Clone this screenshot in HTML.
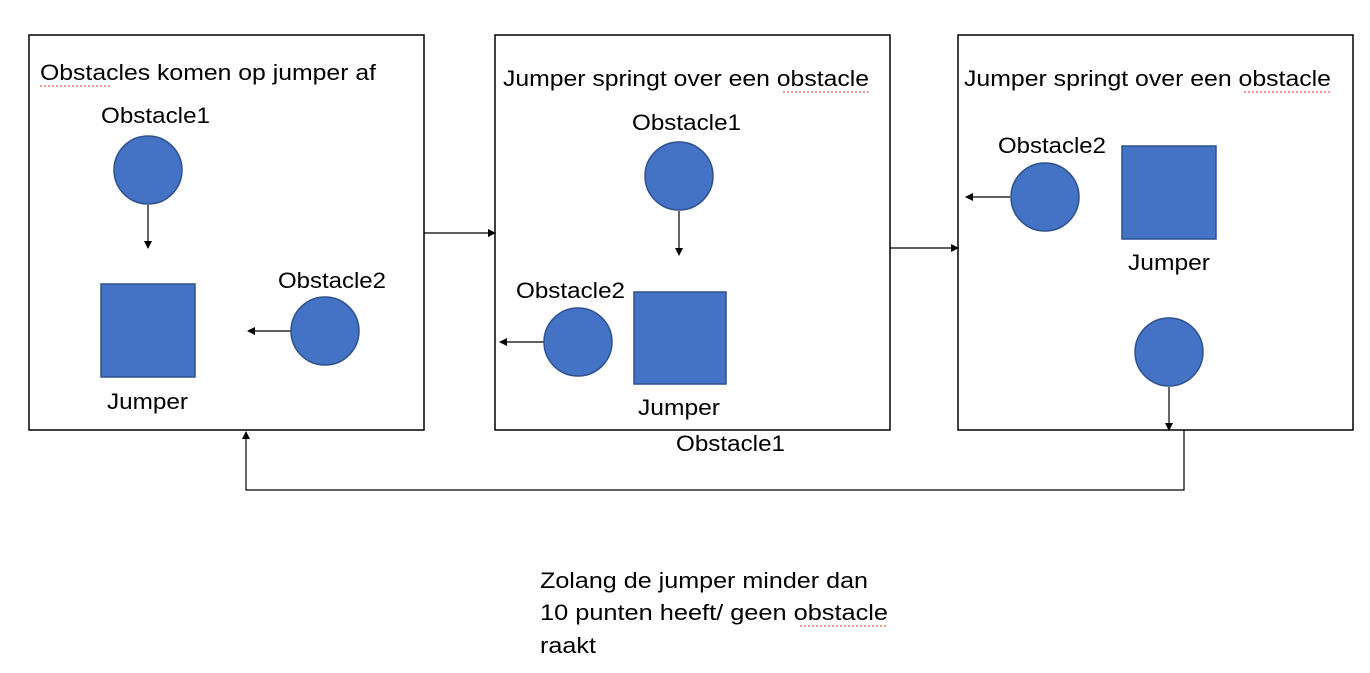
<!DOCTYPE html>
<html><head><meta charset="utf-8"><style>
html,body{margin:0;padding:0;background:#fff;}
svg{display:block;}
text{font-family:"Liberation Sans",sans-serif;font-size:22px;fill:#000;}
</style></head><body>
<svg width="1370" height="673" viewBox="0 0 1370 673">
<defs><marker id="ah" markerWidth="8" markerHeight="8" refX="7" refY="4" orient="auto" markerUnits="userSpaceOnUse"><path d="M0,0 L8,4 L0,8 z" fill="#000"/></marker></defs>
<g fill="none" stroke="#000" stroke-width="1.5">
<rect x="29" y="35" width="395" height="395"/>
<rect x="495" y="35" width="395" height="395"/>
<rect x="958" y="35" width="395" height="395"/>
</g>
<g stroke="#000" stroke-width="1.2" fill="none" marker-end="url(#ah)">
<line x1="424" y1="233" x2="495" y2="233"/>
<line x1="890" y1="248" x2="958" y2="248"/>
<polyline points="1184,430 1184,490 246,490 246,432"/>
<line x1="148" y1="205" x2="148" y2="248"/>
<line x1="291" y1="331" x2="248" y2="331"/>
<line x1="679" y1="211" x2="679" y2="255"/>
<line x1="544" y1="342" x2="500" y2="342"/>
<line x1="1010" y1="197" x2="966" y2="197"/>
<line x1="1169" y1="387" x2="1169" y2="430"/>
</g>
<g fill="#4472C4" stroke="#2F528F" stroke-width="1.5">
<circle cx="148" cy="170" r="34"/>
<circle cx="325" cy="331" r="34"/>
<rect x="101" y="284" width="94" height="93"/>
<circle cx="679" cy="176" r="34"/>
<circle cx="578" cy="342" r="34"/>
<rect x="634" y="292" width="92" height="92"/>
<circle cx="1045" cy="197" r="34"/>
<rect x="1122" y="146" width="94" height="93"/>
<circle cx="1169" cy="352" r="34"/>
</g>
<g>
<text x="40" y="80" textLength="336" lengthAdjust="spacingAndGlyphs">Obstacles komen op jumper af</text>
<text x="101" y="123" textLength="109" lengthAdjust="spacingAndGlyphs">Obstacle1</text>
<text x="278" y="288" textLength="108" lengthAdjust="spacingAndGlyphs">Obstacle2</text>
<text x="107" y="409" textLength="81" lengthAdjust="spacingAndGlyphs">Jumper</text>
<text x="503" y="86" textLength="366" lengthAdjust="spacingAndGlyphs">Jumper springt over een obstacle</text>
<text x="632" y="130" textLength="109" lengthAdjust="spacingAndGlyphs">Obstacle1</text>
<text x="516" y="298" textLength="109" lengthAdjust="spacingAndGlyphs">Obstacle2</text>
<text x="638" y="415" textLength="82" lengthAdjust="spacingAndGlyphs">Jumper</text>
<text x="676" y="451" textLength="109" lengthAdjust="spacingAndGlyphs">Obstacle1</text>
<text x="964" y="86" textLength="367" lengthAdjust="spacingAndGlyphs">Jumper springt over een obstacle</text>
<text x="998" y="153" textLength="108" lengthAdjust="spacingAndGlyphs">Obstacle2</text>
<text x="1128" y="270" textLength="82" lengthAdjust="spacingAndGlyphs">Jumper</text>
<text x="540" y="588" textLength="328" lengthAdjust="spacingAndGlyphs">Zolang de jumper minder dan</text>
<text x="540" y="620" textLength="348" lengthAdjust="spacingAndGlyphs">10 punten heeft/ geen obstacle</text>
<text x="540" y="653" textLength="56" lengthAdjust="spacingAndGlyphs">raakt</text>
</g>
<g stroke="#e03030" stroke-width="1" stroke-dasharray="2,2" fill="none">
<line x1="40" y1="86" x2="110" y2="86"/>
<line x1="783" y1="92" x2="869" y2="92"/>
<line x1="1244" y1="92" x2="1331" y2="92"/>
<line x1="800" y1="626" x2="888" y2="626"/>
</g>
</svg>
</body></html>
